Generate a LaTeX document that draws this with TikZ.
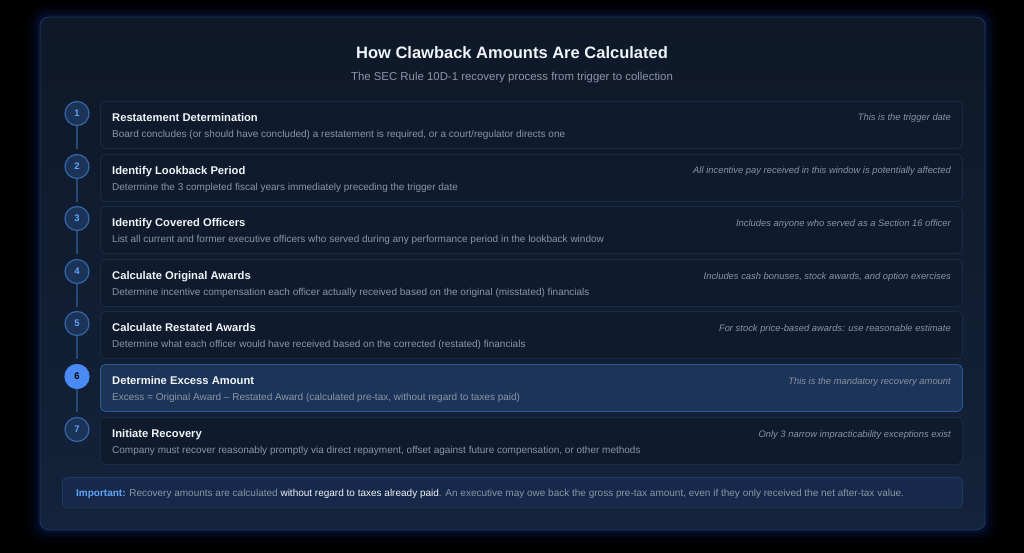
\documentclass[tikz,border=0pt]{standalone}
\usepackage{fontspec}
\setmainfont{Liberation Sans}
\usetikzlibrary{positioning,backgrounds,calc}

\definecolor{pagebg}{HTML}{000000}
\definecolor{glowblue}{HTML}{1D4ED8}
\definecolor{paneltop}{HTML}{0E1828}
\definecolor{panelbot}{HTML}{13233B}
\definecolor{panelline}{HTML}{1E3A5F}
\definecolor{cardfill}{HTML}{0F1B2D}
\definecolor{cardline}{HTML}{1A2B45}
\definecolor{hifill}{HTML}{1C3458}
\definecolor{hiline}{HTML}{2D5A96}
\definecolor{numfill}{HTML}{1B3356}
\definecolor{numline}{HTML}{3566A8}
\definecolor{numtext}{HTML}{60A5FA}
\definecolor{numhi}{HTML}{4A8AF4}
\definecolor{linkline}{HTML}{254A7A}
\definecolor{headtext}{HTML}{F1F5F9}
\definecolor{softtext}{HTML}{8A96A8}
\definecolor{notetext}{HTML}{8793A6}
\definecolor{tipfill}{HTML}{16294A}
\definecolor{tipline}{HTML}{1F3A60}
\definecolor{tipblue}{HTML}{60A5FA}

\tikzset{
  stepcard/.style={draw=cardline, fill=cardfill, rounded corners=5pt, line width=0.8pt,
    minimum width=862pt, minimum height=47pt, anchor=north west, inner sep=0pt},
  hicard/.style={stepcard, draw=hiline, fill=hifill},
  stepnum/.style={circle, draw=numline, fill=numfill, line width=1.2pt, minimum size=24pt,
    inner sep=0pt, text=numtext, font=\fontsize{9.5}{10}\selectfont\bfseries},
  hinum/.style={stepnum, draw=numhi, fill=numhi, text=black},
  steptitle/.style={anchor=base west, inner sep=0pt, text=headtext, font=\fontsize{11.2}{13}\selectfont\bfseries},
  stepdesc/.style={anchor=base west, inner sep=0pt, text=softtext, font=\fontsize{10}{12}\selectfont},
  stepnote/.style={anchor=base east, inner sep=0pt, text=notetext, font=\fontsize{9.4}{11}\selectfont\itshape},
  stepline/.style={draw=linkline, line width=1.6pt},
}

\begin{document}
\begin{tikzpicture}[x=1pt, y=-1pt]
  \useasboundingbox (0,0) rectangle (1024,553);
  \fill[pagebg] (0,0) rectangle (1024,553);

  % glow and panel
  \fill[glowblue, opacity=0.05, rounded corners=18pt] (28,5) rectangle (997,542);
  \fill[glowblue, opacity=0.07, rounded corners=14pt] (33,10) rectangle (992,537);
  \fill[glowblue, opacity=0.10, rounded corners=11pt] (37,14) rectangle (988,533);
  \shade[top color=paneltop, bottom color=panelbot, rounded corners=9pt] (40,17) rectangle (985,530);
  \draw[panelline, line width=0.8pt, rounded corners=9pt] (40,17) rectangle (985,530);

  % heading
  \node[text=headtext, font=\fontsize{16.5}{20}\selectfont\bfseries, anchor=base, inner sep=0pt] (head) at (512,59) {How Clawback Amounts Are Calculated};
  \node[text=softtext, font=\fontsize{11.4}{13}\selectfont, anchor=base, inner sep=0pt] (subhead) at (512,80.7) {The SEC Rule 10D-1 recovery process from trigger to collection};

  % cards
  \node[stepcard] (c1) at (100,101) {};
  \node[stepcard] (c2) at (100,154) {};
  \node[stepcard] (c3) at (100,206) {};
  \node[stepcard] (c4) at (100,259) {};
  \node[stepcard] (c5) at (100,311) {};
  \node[hicard]   (c6) at (100,364) {};
  \node[stepcard] (c7) at (100,417) {};

  % numbers
  \node[stepnum] (s1) at (77,113.5) {1};
  \node[stepnum] (s2) at (77,166.5) {2};
  \node[stepnum] (s3) at (77,218.5) {3};
  \node[stepnum] (s4) at (77,271.5) {4};
  \node[stepnum] (s5) at (77,323.5) {5};
  \node[hinum]   (s6) at (77,376.5) {6};
  \node[stepnum] (s7) at (77,429.5) {7};

  \draw[stepline] (s1.south) -- (s1.south |- c1.south);
  \draw[stepline] (s2.south) -- (s2.south |- c2.south);
  \draw[stepline] (s3.south) -- (s3.south |- c3.south);
  \draw[stepline] (s4.south) -- (s4.south |- c4.south);
  \draw[stepline] (s5.south) -- (s5.south |- c5.south);
  \draw[stepline] (s6.south) -- (s6.south |- c6.south);

  % titles
  \node[steptitle] (t1) at (112,121.5) {Restatement Determination};
  \node[steptitle] (t2) at (112,174.5) {Identify Lookback Period};
  \node[steptitle] (t3) at (112,226.5) {Identify Covered Officers};
  \node[steptitle] (t4) at (112,279.5) {Calculate Original Awards};
  \node[steptitle] (t5) at (112,331.5) {Calculate Restated Awards};
  \node[steptitle] (t6) at (112,384.5) {Determine Excess Amount};
  \node[steptitle] (t7) at (112,437.5) {Initiate Recovery};

  % descriptions
  \node[stepdesc] (d1) at (112,137.3) {Board concludes (or should have concluded) a restatement is required, or a court/regulator directs one};
  \node[stepdesc] (d2) at (112,190.3) {Determine the 3 completed fiscal years immediately preceding the trigger date};
  \node[stepdesc] (d3) at (112,242.3) {List all current and former executive officers who served during any performance period in the lookback window};
  \node[stepdesc] (d4) at (112,295.3) {Determine incentive compensation each officer actually received based on the original (misstated) financials};
  \node[stepdesc] (d5) at (112,347.3) {Determine what each officer would have received based on the corrected (restated) financials};
  \node[stepdesc] (d6) at (112,400.3) {Excess = Original Award -- Restated Award (calculated pre-tax, without regard to taxes paid)};
  \node[stepdesc] (d7) at (112,453.3) {Company must recover reasonably promptly via direct repayment, offset against future compensation, or other methods};

  % side notes
  \node[stepnote] (n1) at (951,121) {This is the trigger date};
  \node[stepnote] (n2) at (951,174) {All incentive pay received in this window is potentially affected};
  \node[stepnote] (n3) at (951,226) {Includes anyone who served as a Section 16 officer};
  \node[stepnote] (n4) at (951,279) {Includes cash bonuses, stock awards, and option exercises};
  \node[stepnote] (n5) at (951,331) {For stock price-based awards: use reasonable estimate};
  \node[stepnote] (n6) at (951,384) {This is the mandatory recovery amount};
  \node[stepnote] (n7) at (951,437) {Only 3 narrow impracticability exceptions exist};

  % important box
  \node[draw=tipline, fill=tipfill, rounded corners=5pt, line width=0.8pt, minimum width=900pt,
        minimum height=30.5pt, anchor=north west, inner sep=0pt] (tip) at (62,477) {};
  \node[anchor=base west, inner sep=0pt, text=softtext, font=\fontsize{10}{12}\selectfont] (tiptext) at (76,496)
    {\textcolor{tipblue}{\bfseries Important:} Recovery amounts are calculated \textcolor{headtext}{without regard to taxes already paid}. An executive may owe back the gross pre-tax amount, even if they only received the net after-tax value.};
\end{tikzpicture}
\end{document}
